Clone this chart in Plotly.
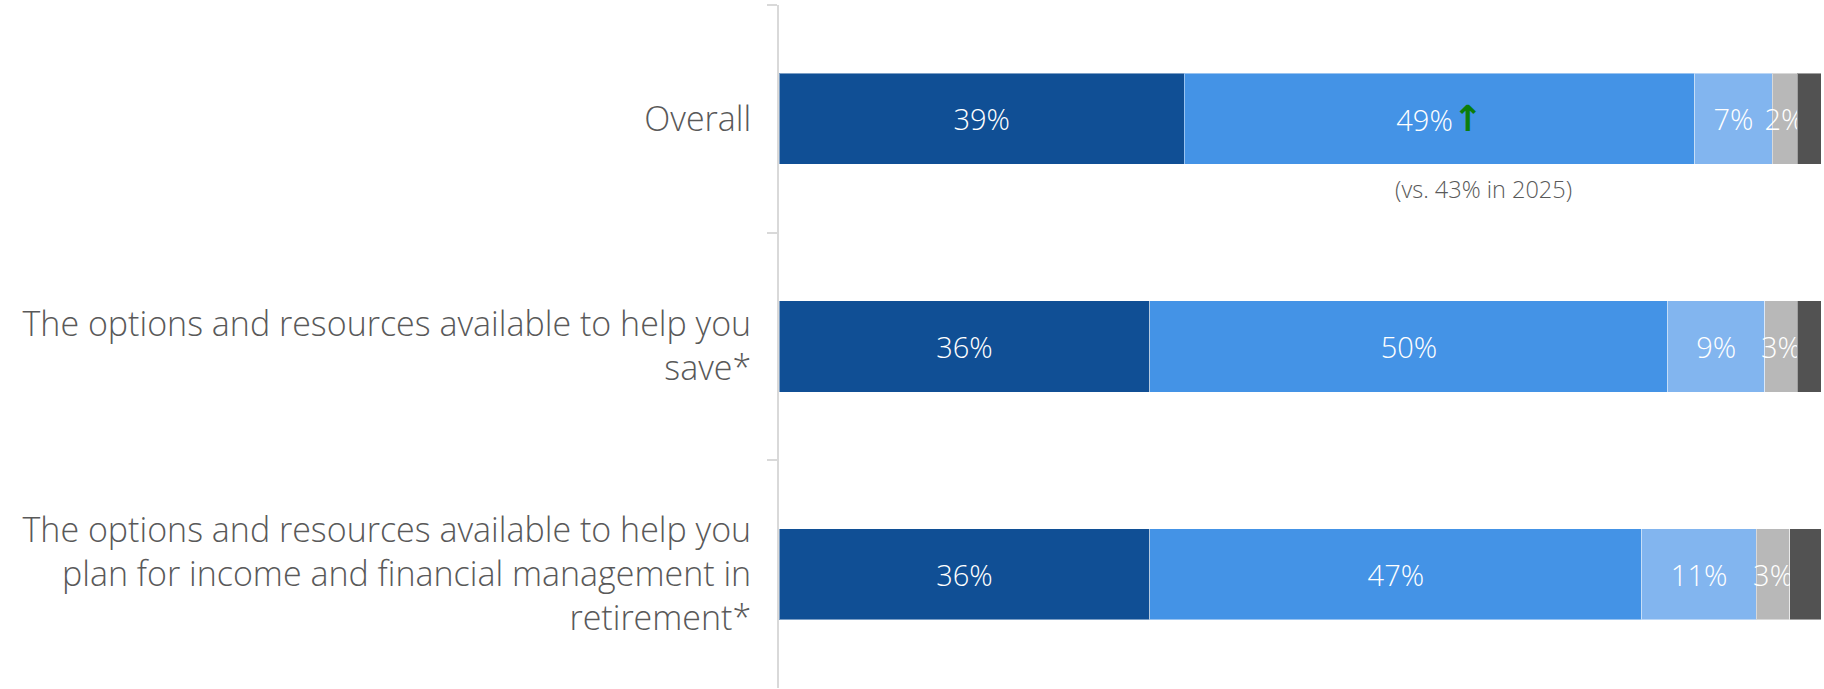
import plotly.graph_objects as go

categories = [
    "Overall",
    "The options and resources available to help you<br>save*",
    "The options and resources available to help you<br>plan for income and financial management in<br>retirement*",
]

# share of responses per segment, left to right
seg_very = [38.9, 35.6, 35.6]
seg_somewhat = [49.0, 49.7, 47.2]
seg_neutral = [7.4, 9.3, 11.0]
seg_notvery = [2.4, 3.1, 3.2]
seg_notatall = [2.3, 2.3, 3.0]

label_very = ["39%", "36%", "36%"]
label_somewhat = [
    "49%<span style='color:#0B7D0B;font-family:DejaVu Sans;font-weight:bold;font-size:36px'>↑</span>",
    "50%", "47%",
]
label_neutral = ["7%", "9%", "11%"]
label_notvery = ["2%", "3%", "3%"]

note_text = "(vs. 43% in 2025)"

colors = {
    'very': '#104F95',
    'somewhat': '#4493E6',
    'neutral': '#82B5EF',
    'notvery': '#B8B8B8',
    'notatall': '#525252',
    'text': '#595959',
    'axis': '#D9D9D9',
}

FONT = "Open Sans"

series = [
    (seg_very, label_very, colors['very']),
    (seg_somewhat, label_somewhat, colors['somewhat']),
    (seg_neutral, label_neutral, colors['neutral']),
    (seg_notvery, label_notvery, colors['notvery']),
    (seg_notatall, None, colors['notatall']),
]

fig = go.Figure()
for vals, labels, col in series:
    fig.add_trace(go.Bar(
        y=categories,
        x=vals,
        orientation='h',
        width=0.4,
        marker=dict(color=col, line=dict(color='rgba(255,255,255,0.45)', width=1)),
        text=labels,
        textposition='inside' if labels else 'none',
        insidetextanchor='middle',
        textangle=0,
        constraintext='none',
        textfont=dict(family=FONT, size=29, color='white', weight=300),
        hoverinfo='skip',
        showlegend=False,
    ))

# note under the "somewhat" segment of the first row
fig.add_annotation(
    x=seg_very[0] + seg_somewhat[0] / 2, y=categories[0],
    xref='x', yref='y',
    xshift=44, yshift=-70,
    text=note_text, showarrow=False,
    font=dict(family=FONT, size=23.5, color=colors['text'], weight=300),
)

fig.update_layout(
    barmode='stack',
    width=1824, height=689,
    margin=dict(l=779, r=3, t=5, b=1),
    plot_bgcolor='white', paper_bgcolor='white',
    showlegend=False,
    xaxis=dict(range=[0, 100], visible=False, fixedrange=True),
    yaxis=dict(
        autorange='reversed',
        showline=True, linecolor=colors['axis'], linewidth=2,
        ticks='outside', tickson='boundaries', ticklen=10,
        tickcolor=colors['axis'], tickwidth=2,
        ticklabelstandoff=19,
        tickfont=dict(family=FONT, size=34, color=colors['text'], weight=300),
        showgrid=False, zeroline=False,
    ),
)

fig.write_html("out.html", config={'displayModeBar': False},
               post_script="document.body.style.margin='0';")
